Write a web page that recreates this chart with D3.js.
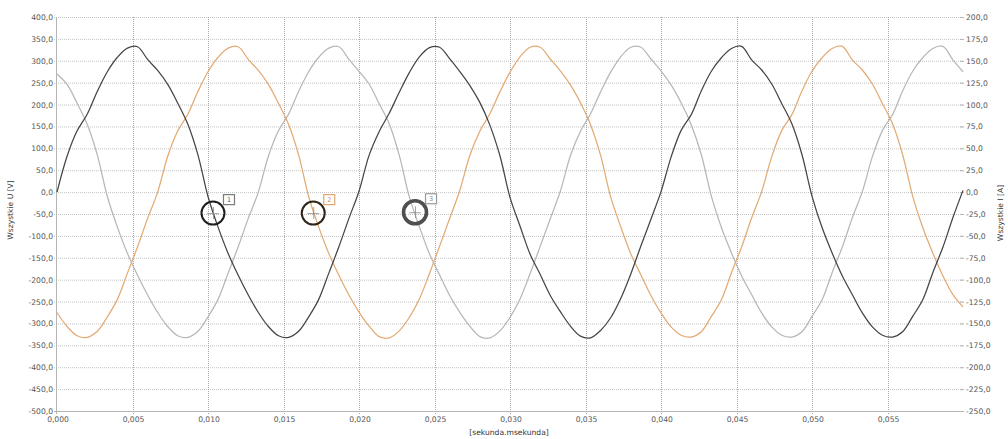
<!DOCTYPE html>
<html lang="pl">
<head>
  <meta charset="UTF-8" />
  <title>Wszystkie U / I</title>
  <script src="https://cdnjs.cloudflare.com/ajax/libs/d3/7.8.2/d3.min.js"></script>
  <style>
    body {
      margin: 0;
      padding: 0;
      background: #fff;
    }
    svg {
      display: block;
      font-family: "DejaVu Sans", sans-serif;
    }
    .tick-label {
      font-size: 7.6px;
      fill: #555;
    }
    .axis-title {
      font-size: 7.6px;
      fill: #333;
    }
    .grid-h {
      stroke: #c2c2c2;
      stroke-width: 1;
      stroke-dasharray: 1,1;
    }
    .grid-v {
      stroke: #a8a8a8;
      stroke-width: 1;
      stroke-dasharray: 1,1;
    }
    .wave {
      fill: none;
      stroke-width: 1.25px;
      stroke-linejoin: round;
    }
  </style>
</head>
<body>

<svg id="chart" width="1008" height="439"></svg>

<script>
/* -------------------------------------------------------
   DATA (one sample every 1/1500 s)
------------------------------------------------------- */
const sampleStep = 1 / 1500;

const xTicks = [0, 0.005, 0.010, 0.015, 0.020, 0.025, 0.030, 0.035, 0.040, 0.045, 0.050, 0.055];
const leftTicks = [400, 350, 300, 250, 200, 150, 100, 50, 0, -50, -100, -150, -200, -250, -300, -350, -400, -450, -500];
const rightTicks = [200, 175, 150, 125, 100, 75, 50, 25, 0, -25, -50, -75, -100, -125, -150, -175, -200, -225, -250];

// phase 1 (dark)
const voltageL1 = [
  0, 82, 140, 178, 230, 275, 308, 329, 332, 303, 278, 246, 203, 155, 85, -10, -80, -140, -190, -235, -275, -307, -328, -332, -318, -285, -245, -185, -125, -60,
  2, 84, 138, 180, 228, 273, 309, 330, 331, 305, 276, 244, 205, 153, 83, -12, -78, -142, -188, -236, -273, -306, -329, -333, -316, -287, -243, -187, -123, -62,
  1, 80, 141, 177, 231, 276, 307, 328, 333, 302, 279, 247, 202, 156, 86, -9, -81, -139, -191, -234, -276, -308, -327, -331, -319, -284, -246, -184, -126, -58,
  4
];

// phase 2 (orange)
const voltageL2 = [
  -275, -307, -328, -332, -318, -285, -245, -185, -125, -60, 0, 82, 140, 178, 230, 275, 308, 329, 332, 303, 278, 246, 203, 155, 85, -10, -80, -140, -190, -235,
  -274, -306, -330, -333, -317, -286, -244, -186, -124, -61, 3, 83, 139, 179, 229, 274, 309, 331, 331, 304, 277, 245, 204, 154, 84, -11, -79, -141, -189, -236,
  -276, -308, -327, -331, -319, -284, -246, -184, -126, -59, 1, 81, 141, 177, 231, 276, 307, 328, 333, 302, 279, 247, 202, 156, 86, -9, -81, -139, -191, -234,
  -262
];

// phase 3 (light grey)
const voltageL3 = [
  270, 246, 203, 155, 85, -10, -80, -140, -190, -235, -275, -307, -328, -332, -318, -285, -245, -185, -125, -60, 0, 82, 140, 178, 230, 275, 308, 329, 332, 303,
  276, 247, 202, 156, 84, -11, -79, -141, -189, -236, -274, -306, -330, -333, -317, -286, -244, -186, -124, -61, 2, 83, 139, 179, 229, 274, 309, 331, 331, 304,
  277, 245, 204, 154, 86, -9, -81, -139, -191, -234, -276, -308, -327, -331, -319, -284, -246, -184, -126, -59, 1, 81, 141, 177, 231, 276, 307, 328, 333, 302,
  275
];

// cursor markers
const markerLabels = ["1", "2", "3"];
const markerTimes = [0.01033, 0.01697, 0.02371];
const markerValues = [-48, -48, -46];

/* -------------------------------------------------------
   SETUP
------------------------------------------------------- */
const svg = d3.select("#chart");

const plLocale = d3.formatLocale({
  decimal: ",",
  thousands: " ",
  grouping: [3],
  currency: ["", " zł"],
  minus: "-"
});
const fmtY = plLocale.format(".1f");
const fmtX = plLocale.format(".3f");

const x = d3.scaleLinear().domain([0, 0.06]).range([57, 963]);
const yLeft = d3.scaleLinear().domain([-500, 400]).range([411, 17]);
const yRight = d3.scaleLinear().domain([-250, 200]).range([411, 17]);

const gridGroup = svg.append("g");
const axisGroup = svg.append("g");
const waveGroup = svg.append("g");
const markerGroup = svg.append("g");

/* -------------------------------------------------------
   GRID
------------------------------------------------------- */
gridGroup.selectAll(".grid-h")
  .data(leftTicks)
  .enter()
  .append("line")
  .attr("class", "grid-h")
  .attr("x1", x(0) - 3)
  .attr("x2", x(0.06))
  .attr("y1", d => yLeft(d) + 0.5)
  .attr("y2", d => yLeft(d) + 0.5);

gridGroup.selectAll(".grid-v")
  .data(xTicks.slice(1))
  .enter()
  .append("line")
  .attr("class", "grid-v")
  .attr("x1", d => Math.round(x(d)) + 0.5)
  .attr("x2", d => Math.round(x(d)) + 0.5)
  .attr("y1", yLeft(400))
  .attr("y2", yLeft(-500) + 3);

// frame: left + bottom
axisGroup.append("line")
  .attr("x1", x(0) - 0.5).attr("x2", x(0) - 0.5)
  .attr("y1", yLeft(400)).attr("y2", yLeft(-500) + 3)
  .attr("stroke", "#b5b5b5");
axisGroup.append("line")
  .attr("x1", x(0) - 3).attr("x2", x(0.06))
  .attr("y1", yLeft(-500) + 0.5).attr("y2", yLeft(-500) + 0.5)
  .attr("stroke", "#b5b5b5");

// right tick marks
axisGroup.selectAll(".rtick")
  .data(rightTicks)
  .enter()
  .append("line")
  .attr("x1", x(0.06) - 3)
  .attr("x2", x(0.06) + 1)
  .attr("y1", d => yRight(d) + 0.5)
  .attr("y2", d => yRight(d) + 0.5)
  .attr("stroke", "#b5b5b5");

/* -------------------------------------------------------
   TICK LABELS
------------------------------------------------------- */
axisGroup.selectAll(".ly")
  .data(leftTicks)
  .enter()
  .append("text")
  .attr("class", "tick-label")
  .attr("x", x(0) - 4)
  .attr("y", d => yLeft(d) + 3)
  .attr("text-anchor", "end")
  .text(d => fmtY(d));

axisGroup.selectAll(".ry")
  .data(rightTicks)
  .enter()
  .append("text")
  .attr("class", "tick-label")
  .attr("x", x(0.06) + 3)
  .attr("y", d => yRight(d) + 3)
  .attr("text-anchor", "start")
  .text(d => fmtY(d));

axisGroup.selectAll(".lx")
  .data(xTicks)
  .enter()
  .append("text")
  .attr("class", "tick-label")
  .attr("x", d => x(d) + 1)
  .attr("y", 421.5)
  .attr("text-anchor", "middle")
  .text(d => fmtX(d));

// axis titles
axisGroup.append("text")
  .attr("class", "axis-title")
  .attr("transform", `translate(13, 210) rotate(-90)`)
  .attr("text-anchor", "middle")
  .text("Wszystkie U [V]");

axisGroup.append("text")
  .attr("class", "axis-title")
  .attr("transform", `translate(1003, 213) rotate(-90)`)
  .attr("text-anchor", "middle")
  .text("Wszystkie I [A]");

axisGroup.append("text")
  .attr("class", "axis-title")
  .attr("x", 509)
  .attr("y", 435)
  .attr("text-anchor", "middle")
  .text("[sekunda.msekunda]");

/* -------------------------------------------------------
   WAVES
------------------------------------------------------- */
const line = d3.line()
  .x((d, i) => x(i * sampleStep))
  .y(d => yLeft(d))
  .curve(d3.curveCatmullRom.alpha(0.5));

const series = [
  { values: voltageL3, color: "#b7b7b7" },
  { values: voltageL2, color: "#e3aa74" },
  { values: voltageL1, color: "#454545" }
];

waveGroup.selectAll(".wave")
  .data(series)
  .enter()
  .append("path")
  .attr("class", "wave")
  .attr("stroke", d => d.color)
  .attr("d", d => line(d.values));

/* -------------------------------------------------------
   CURSOR MARKERS
------------------------------------------------------- */
const markerStroke = ["#1e1e1e", "#2e2418", "#4f4f4f"];
const markerWidth = [2, 2, 3.6];
const boxStroke = ["#7a7a7a", "#e2a66e", "#9a9a9a"];
const labelFill = ["#555", "#d08a50", "#888"];

const markers = markerGroup.selectAll(".marker")
  .data(markerLabels)
  .enter()
  .append("g")
  .attr("class", "marker")
  .attr("transform", (d, i) => `translate(${x(markerTimes[i])},${yLeft(markerValues[i])})`);

// small crosshair inside the ring
markers.append("path")
  .attr("d", "M-6,0.5H6M0.5,-6V6")
  .attr("stroke", "#8a8a8a")
  .attr("stroke-width", 0.8);

markers.append("circle")
  .attr("r", 11.5)
  .attr("fill", "none")
  .attr("stroke", (d, i) => markerStroke[i])
  .attr("stroke-width", (d, i) => markerWidth[i]);

markers.append("rect")
  .attr("x", 10.5)
  .attr("y", -18.5)
  .attr("width", 11)
  .attr("height", 10)
  .attr("fill", "#fff")
  .attr("stroke", (d, i) => boxStroke[i])
  .attr("stroke-width", 1.2);

markers.append("text")
  .attr("x", 16)
  .attr("y", -11)
  .attr("text-anchor", "middle")
  .attr("font-size", "6.5px")
  .attr("fill", (d, i) => labelFill[i])
  .text(d => d);
</script>

</body>
</html>
